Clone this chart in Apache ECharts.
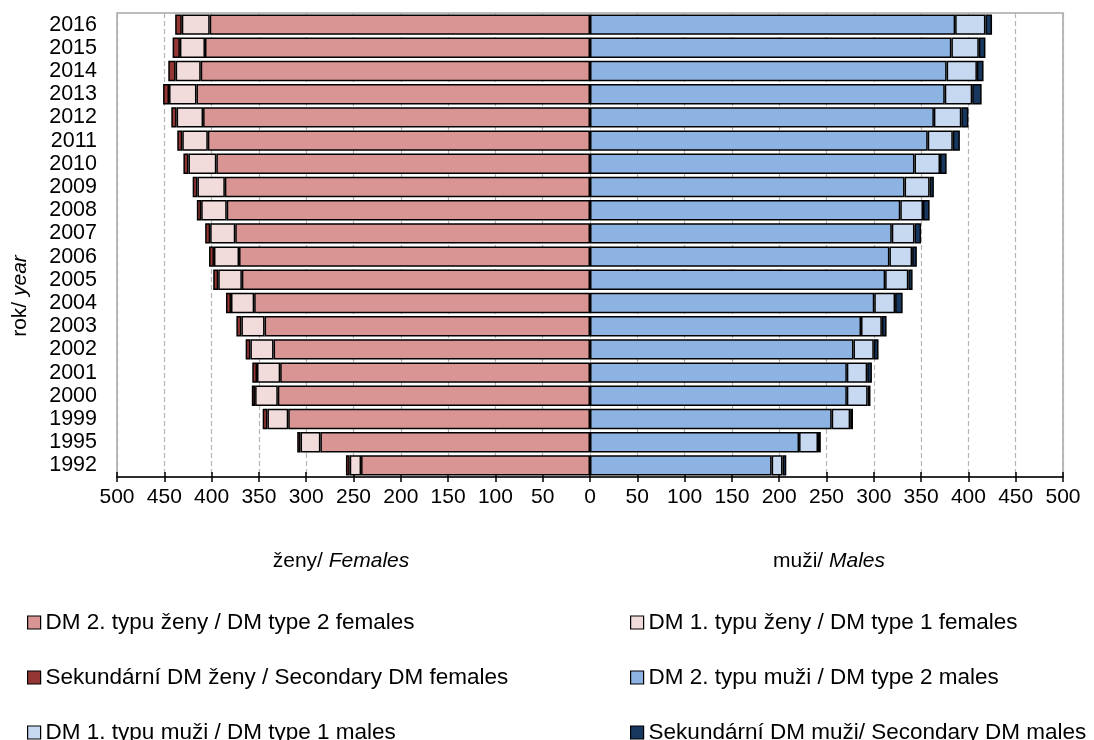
<!DOCTYPE html>
<html>
<head>
<meta charset="utf-8">
<script src="https://cdn.jsdelivr.net/npm/echarts@6/dist/echarts.min.js"></script>
<style>html,body{margin:0;padding:0;background:#fff}#c{width:1094px;height:740px}</style>
</head>
<body>
<div id="c"></div>
<script>
var years = ['1992','1995','1999','2000','2001','2002','2003','2004','2005','2006','2007','2008','2009','2010','2011','2012','2013','2014','2015','2016'];
var femaleType2 = [242, 285, 319, 330, 327.5, 334.5, 344, 355, 368, 371, 375, 384, 386, 395, 404, 409, 416, 411.5, 407, 402];
var femaleType1 = [12, 21, 22, 24, 24.5, 24.5, 24.5, 24.5, 25, 26.5, 26.5, 27, 29, 29.5, 27, 28, 29, 26.5, 26.5, 29.5];
var femaleSecondary = [4, 3.5, 5, 3.5, 5, 5, 5.3, 5.3, 5.3, 5.2, 5.3, 4.6, 5, 5.3, 5.3, 5.6, 6.3, 7.8, 7.7, 7];
var maleType2 = [192, 221, 255.5, 271.5, 271.5, 278.5, 286.5, 300.5, 312, 316.5, 319, 328, 332.5, 343, 357, 363.5, 375, 377, 382, 386];
var maleType1 = [11.5, 20, 19.5, 22, 21.5, 21.5, 22, 22, 24.5, 24, 24, 24, 26.5, 27, 26.5, 29, 29, 32, 29, 32];
var maleSecondary = [4, 3, 3, 3, 5, 5, 5, 8, 4.5, 5, 7, 7, 4.5, 7, 7.5, 7.5, 10, 7, 7, 7];
var xTicks = [-500, 500, 50];

var names = [
  'DM 2. typu ženy / DM type 2 females',
  'DM 1. typu ženy / DM type 1 females',
  'Sekundární DM ženy / Secondary DM females',
  'DM 2. typu muži / DM type 2 males',
  'DM 1. typu muži / DM type 1 males',
  'Sekundární DM muži/ Secondary DM males'
];
var colors = ['#D99594', '#F2DCDB', '#943634', '#8DB3E2', '#C6D9F1', '#17375E'];
var dataSets = [
  femaleType2.map(function(v){return -v;}),
  femaleType1.map(function(v){return -v;}),
  femaleSecondary.map(function(v){return -v;}),
  maleType2, maleType1, maleSecondary
];
var FONT = 'Liberation Sans, Arial, sans-serif';

var series = names.map(function(n, i){
  return {
    name: n, type: 'bar', stack: 'all', xAxisIndex: 0, yAxisIndex: 0,
    barCategoryGap: '12%',
    itemStyle: {color: colors[i], borderColor: '#000', borderWidth: 1.5},
    emphasis: {disabled: true},
    data: dataSets[i]
  };
});

// legend placement: reading order, two columns, three rows
var legendPos = [[22, 606], [625, 606], [22, 661], [625, 661], [22, 716], [625, 716]];
var legends = names.map(function(n, i){
  return {
    orient: 'horizontal', left: legendPos[i][0], top: legendPos[i][1],
    itemWidth: 13, itemHeight: 13, icon: 'rect',
    itemStyle: {borderWidth: 1.2},
    textStyle: {fontSize: 22.5, color: '#000', fontFamily: FONT, lineHeight: 22},
    data: [n]
  };
});

var chart = echarts.init(document.getElementById('c'), null, {renderer: 'canvas'});
chart.setOption({
  animation: false,
  textStyle: {fontFamily: FONT},
  grid: {left: 117, right: 31, top: 13, bottom: 263, show: true, borderColor: '#a6a6a6', borderWidth: 1.5, containLabel: false},
  xAxis: [{
    type: 'value', position: 'bottom', min: xTicks[0], max: xTicks[1], interval: xTicks[2],
    axisLine: {show: true, lineStyle: {color: '#000', width: 1.5}},
    axisTick: {show: true, length: 5, lineStyle: {color: '#000', width: 1.5}},
    axisLabel: {fontSize: 21, color: '#000', margin: 10, fontFamily: FONT, formatter: function(v){return String(Math.abs(v));}},
    splitLine: {show: true, lineStyle: {color: '#b3b3b3', type: [5, 3], width: 1.2}}
  }, {
    type: 'value', position: 'bottom', min: xTicks[0], max: xTicks[1], interval: xTicks[2],
    axisLine: {show: false},
    axisTick: {show: true, inside: true, length: 5, lineStyle: {color: '#000', width: 1.5}},
    axisLabel: {show: false},
    splitLine: {show: false}
  }],
  yAxis: {
    type: 'category', data: years,
    axisLine: {show: false, onZero: false},
    axisTick: {show: false},
    axisLabel: {fontSize: 21.5, color: '#000', margin: 20, interval: 0, fontFamily: FONT}
  },
  legend: legends,
  graphic: [{
    type: 'text', x: 341, y: 561,
    style: {text: '{a|ženy/ }{b|Females}', textAlign: 'center', textVerticalAlign: 'middle',
      rich: {a: {fontSize: 21, fontFamily: FONT, fill: '#000'}, b: {fontSize: 21, fontFamily: FONT, fontStyle: 'italic', fill: '#000'}}}
  }, {
    type: 'text', x: 829, y: 561,
    style: {text: '{a|muži/ }{b|Males}', textAlign: 'center', textVerticalAlign: 'middle',
      rich: {a: {fontSize: 21, fontFamily: FONT, fill: '#000'}, b: {fontSize: 21, fontFamily: FONT, fontStyle: 'italic', fill: '#000'}}}
  }, {
    type: 'text', x: 20, y: 296, rotation: Math.PI / 2,
    style: {text: '{a|rok/ }{b|year}', textAlign: 'center', textVerticalAlign: 'middle',
      rich: {a: {fontSize: 21, fontFamily: FONT, fill: '#000'}, b: {fontSize: 21, fontFamily: FONT, fontStyle: 'italic', fill: '#000'}}}
  }],
  series: series
});
</script>
</body>
</html>
